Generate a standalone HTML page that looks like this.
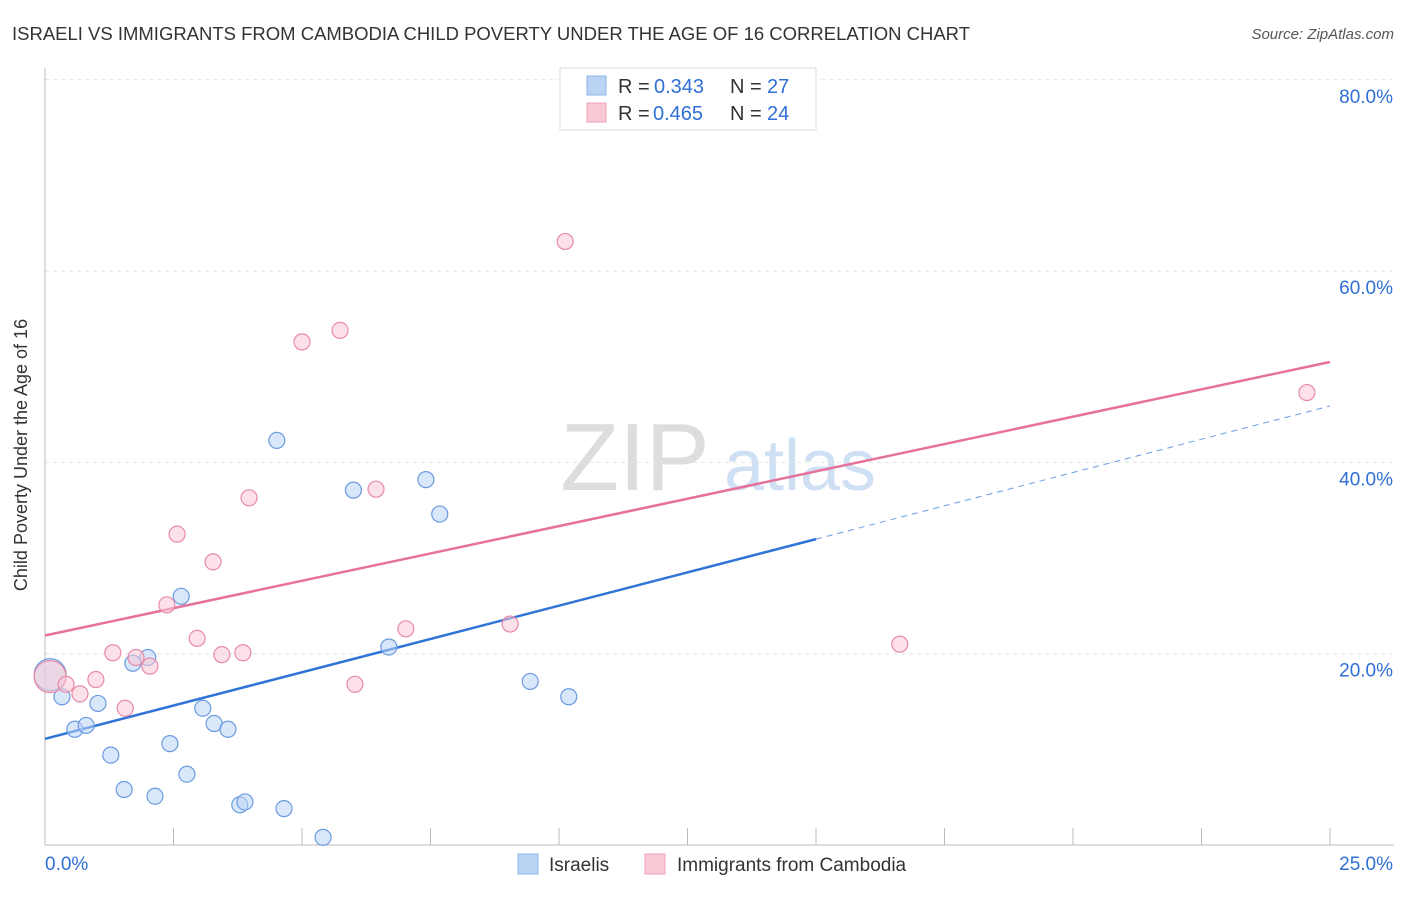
<!DOCTYPE html>
<html><head><meta charset="utf-8"><style>
body{margin:0;background:#fff;font-family:"Liberation Sans",sans-serif;}
svg text{font-family:"Liberation Sans",sans-serif;}
</style></head><body>
<svg id="c" width="1406" height="892" xmlns="http://www.w3.org/2000/svg">
<text x="12" y="40" font-size="18.5" fill="#333" textLength="958" lengthAdjust="spacingAndGlyphs">ISRAELI VS IMMIGRANTS FROM CAMBODIA CHILD POVERTY UNDER THE AGE OF 16 CORRELATION CHART</text>
<text x="1394" y="39" font-size="15" fill="#555" font-style="italic" text-anchor="end">Source: ZipAtlas.com</text>
<text x="27" y="455" font-size="18" fill="#333" text-anchor="middle" transform="rotate(-90 27 455)">Child Poverty Under the Age of 16</text>
<g><text x="635" y="490" font-size="96" fill="#ddd" font-family="Liberation Serif" text-anchor="middle">ZIP</text><text x="800" y="490" font-size="72" fill="#cfe0f5" text-anchor="middle">atlas</text></g>
<g id="grid"></g><g id="axes"></g><g id="lines"></g><g id="pts"></g>
<g>
<rect x="560" y="68" width="256" height="62" fill="#fff" stroke="#ddd"/>
<rect x="587" y="76" width="19" height="19" fill="#b9d3f5" stroke="#8fb5e8"/>
<text x="618" y="93" font-size="20" fill="#333">R =</text>
<text x="654" y="93" font-size="20" fill="#2f6fd6">0.343</text>
<text x="730" y="93" font-size="20" fill="#333">N =</text>
<text x="767" y="93" font-size="20" fill="#2f6fd6">27</text>
<rect x="587" y="103" width="19" height="19" fill="#f9c9d6" stroke="#eea2b8"/>
<text x="618" y="120" font-size="20" fill="#333">R =</text>
<text x="653" y="120" font-size="20" fill="#2f6fd6">0.465</text>
<text x="730" y="120" font-size="20" fill="#333">N =</text>
<text x="767" y="120" font-size="20" fill="#2f6fd6">24</text>
</g>
<g>
<rect x="518" y="854" width="20" height="20" fill="#b9d3f5" stroke="#8fb5e8"/>
<text x="549" y="871" font-size="19" fill="#333">Israelis</text>
<rect x="645" y="854" width="20" height="20" fill="#f9c9d6" stroke="#eea2b8"/>
<text x="677" y="871" font-size="19" fill="#333">Immigrants from Cambodia</text>
</g>
</svg>
<script>
const blueX=[0.1,0.33,0.58,0.8,1.03,1.28,1.54,1.71,2.0,2.14,2.43,2.65,2.76,3.07,3.29,3.56,3.79,3.89,4.51,4.65,5.41,6.0,6.69,7.41,7.68,9.44,10.19];
const blueY=[17.8,15.5,12.1,12.5,14.8,9.4,5.8,19.0,19.6,5.1,10.6,26.0,7.4,14.3,12.7,12.1,4.2,4.5,42.3,3.8,0.8,37.1,20.7,38.2,34.6,17.1,15.5];
const pinkX=[0.1,0.41,0.68,0.99,1.32,1.56,1.77,2.04,2.37,2.57,2.96,3.27,3.44,3.85,3.97,5.0,5.74,6.03,6.44,7.02,9.05,10.12,16.63,24.55];
const pinkY=[17.6,16.8,15.8,17.3,20.1,14.3,19.6,18.7,25.1,32.5,21.6,29.6,19.9,20.1,36.3,52.6,53.8,16.8,37.2,22.6,23.1,63.1,21.0,47.3];
const yTicks=[20,40,60,80];
const yTickLabels=["20.0%","40.0%","60.0%","80.0%"];
const blueTrend=[11.1,45.9];
const pinkTrend=[21.9,50.5];
const X=v=>45+v*51.4, Y=v=>845-v*9.565;
const NS="http://www.w3.org/2000/svg";
function mk(p,t,a){const e=document.createElementNS(NS,t);for(const k in a)e.setAttribute(k,a[k]);document.getElementById(p).appendChild(e);return e;}
yTicks.forEach((t,i)=>{
 const l=mk('grid','line',{x1:45,x2:1394,y1:Y(t),y2:Y(t),stroke:'#e4e4e4','stroke-dasharray':'4 4'});
 
 const tx=mk('grid','text',{x:1393,y:Y(t)+23,'font-size':19,fill:'#2f6fd6','text-anchor':'end'});
 tx.textContent=yTickLabels[i];
 
});
const ax=mk('axes','line',{x1:45,x2:1394,y1:845,y2:845,stroke:'#bbb'});

const ay=mk('axes','line',{x1:45,x2:45,y1:68,y2:845,stroke:'#bbb'});

for(let i=0;i<=10;i++){const t=mk('axes','line',{x1:X(i*2.5),x2:X(i*2.5),y1:828,y2:845,stroke:'#bbb'});
 }
const x0=mk('axes','text',{x:45,y:870,'font-size':19,fill:'#2f6fd6'});x0.textContent='0.0%';

const x1=mk('axes','text',{x:1393,y:870,'font-size':19,fill:'#2f6fd6','text-anchor':'end'});x1.textContent='25.0%';

function pts(xs,ys,fill,stroke,name){xs.forEach((x,i)=>{
 const c=mk('pts','circle',{cx:X(x),cy:Y(ys[i]),r:i==0?16:8,fill:fill,'fill-opacity':0.55,stroke:stroke,'stroke-width':1.2});
 });}
pts(blueX,blueY,'#b9d3f5','#6b9be0','israeli-point');
pts(pinkX,pinkY,'#f9c9d6','#e88aa6','cambodia-point');
const bm=blueTrend[0]+(blueTrend[1]-blueTrend[0])*15/25;
const b1=mk('lines','line',{x1:X(0),y1:Y(blueTrend[0]),x2:X(15),y2:Y(bm),stroke:'#2f74d6','stroke-width':2.5});

const b2=mk('lines','line',{x1:X(15),y1:Y(bm),x2:X(25),y2:Y(blueTrend[1]),stroke:'#6b9be0','stroke-width':1,'stroke-dasharray':'6 5'});

const p1=mk('lines','line',{x1:X(0),y1:Y(pinkTrend[0]),x2:X(25),y2:Y(pinkTrend[1]),stroke:'#e6719a','stroke-width':2.5});

</script>
</body></html>
